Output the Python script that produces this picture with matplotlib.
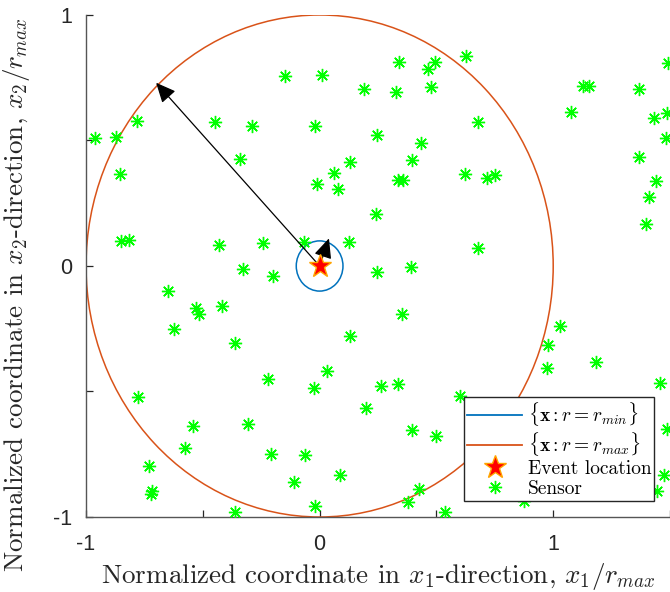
import numpy as np
import matplotlib.pyplot as plt
from matplotlib.patches import Circle
from matplotlib.lines import Line2D
from matplotlib.ticker import FuncFormatter, MultipleLocator

plt.rcParams['mathtext.fontset'] = 'cm'
plt.rcParams['axes.unicode_minus'] = False

# radii of the two circles (normalized by r_max)
r_min = 0.1
r_max = 1.0
event_x = [0.0]
event_y = [0.0]
# arrow tips (arrows start at the event)
arrow_tip_x = [-0.70, 0.04]
arrow_tip_y = [0.73, 0.11]

sensor_x = [-0.962, -0.870, -0.781, -0.855, -0.852, -0.814, -0.449, -0.291, -0.342, -0.430,
            -0.241, -0.328, -0.147, 0.009, 0.188, 0.329, 0.338, 0.462, 0.492, 0.476,
            0.627, -0.018, 0.246, 0.434, 0.396, 0.130, 0.060, -0.010, 0.079, 0.334,
            0.358, 0.624, 0.241, -0.068, 0.126, 0.246, 0.392, 0.680, 0.716, 0.749,
            0.680, 1.077, 1.129, 1.154, 1.369, 1.493, 1.433, 1.488, 1.483, 1.369,
            1.439, 1.410, 1.397, -0.199, -0.647, -0.529, -0.518, -0.416, -0.623, -0.364,
            -0.221, -0.777, -0.541, -0.305, -0.577, -0.208, -0.730, -0.716, -0.721, -0.364,
            0.351, 0.130, 0.032, -0.024, 0.264, 0.334, 0.198, 0.602, 0.396, 0.499,
            -0.064, 0.089, -0.111, -0.018, 0.426, 0.379, 0.536, 1.030, 0.976, 0.975,
            1.183, 1.457, 1.489, 1.475, 1.443, 0.873]
sensor_y = [0.508, 0.512, 0.576, 0.365, 0.100, 0.104, 0.574, 0.557, 0.426, 0.082,
            0.090, -0.011, 0.755, 0.759, 0.707, 0.693, 0.814, 0.786, 0.812, 0.713,
            0.837, 0.557, 0.522, 0.488, 0.422, 0.414, 0.371, 0.327, 0.307, 0.341,
            0.341, 0.367, 0.206, 0.096, 0.094, -0.024, -0.004, 0.573, 0.352, 0.361,
            0.073, 0.615, 0.716, 0.716, 0.707, 0.809, 0.590, 0.608, 0.509, 0.436,
            0.339, 0.275, 0.166, -0.040, -0.098, -0.167, -0.192, -0.159, -0.253, -0.307,
            -0.451, -0.522, -0.637, -0.629, -0.724, -0.749, -0.797, -0.896, -0.908, -0.982,
            -0.190, -0.280, -0.418, -0.487, -0.478, -0.471, -0.564, -0.519, -0.653, -0.677,
            -0.754, -0.831, -0.862, -0.956, -0.887, -0.939, -0.982, -0.241, -0.314, -0.405,
            -0.384, -0.465, -0.649, -0.831, -0.898, -0.937]

blue = '#0072BD'
orange = '#D95319'
green = '#00FF00'
axcol = '#262626'
asterisk = (8, 2, 0)

fig = plt.figure(figsize=(6.7, 5.92), dpi=100)
ax = fig.add_axes([0.1284, 0.1267, 0.8716, 0.848])

ax.add_patch(Circle((event_x[0], event_y[0]), r_min, fill=False, ec=blue, lw=1.1, zorder=2))
ax.add_patch(Circle((event_x[0], event_y[0]), r_max, fill=False, ec=orange, lw=1.1, zorder=2))

ax.plot(sensor_x, sensor_y, ls='none', marker=asterisk, ms=9.5, mew=1.0, color=green, zorder=3)

for tx, ty in zip(arrow_tip_x, arrow_tip_y):
    ax.annotate('', xy=(tx, ty), xytext=(event_x[0], event_y[0]),
                arrowprops=dict(arrowstyle='-|>,head_length=0.55,head_width=0.25',
                                color='k', lw=0.9, mutation_scale=22,
                                shrinkA=0, shrinkB=0),
                zorder=4)

ax.plot(event_x, event_y, ls='none', marker='*', ms=17, mfc='red', mec='#FFA500',
        mew=1.0, zorder=5)

ax.set_xlim(-1, 1.5)
ax.set_ylim(-1, 1)
ax.xaxis.set_major_locator(MultipleLocator(0.5))
ax.yaxis.set_major_locator(MultipleLocator(0.5))
int_fmt = FuncFormatter(lambda v, p: '%d' % round(v) if abs(v - round(v)) < 1e-9 else '')
ax.xaxis.set_major_formatter(int_fmt)
ax.yaxis.set_major_formatter(int_fmt)

for s in ['top', 'right']:
    ax.spines[s].set_visible(False)
for s in ['left', 'bottom']:
    ax.spines[s].set_color('#555555')
    ax.spines[s].set_linewidth(1.0)
ax.tick_params(direction='in', length=5, width=0.9, color=axcol, labelcolor=axcol,
               labelsize=15.5)
ax.tick_params(axis='x', pad=12)
ax.tick_params(axis='y', pad=10)
for lab in ax.get_xticklabels() + ax.get_yticklabels():
    lab.set_fontfamily('Liberation Sans')

ax.set_xlabel(r'Normalized coordinate in $x_1$-direction, $x_1/r_{max}$',
              fontfamily='cmr10', fontsize=19.5, color=axcol)
ax.set_ylabel(r'Normalized coordinate in $x_2$-direction, $x_2/r_{max}$',
              fontfamily='cmr10', fontsize=19.5, color=axcol)
ax.xaxis.set_label_coords(0.5, -0.088)
ax.yaxis.set_label_coords(-0.092, 0.442)

handles = [Line2D([], [], color=blue, lw=1.3),
           Line2D([], [], color=orange, lw=1.3),
           Line2D([], [], ls='none', marker='*', ms=17, mfc='red', mec='#FFA500', mew=1.0),
           Line2D([], [], ls='none', marker=asterisk, ms=9.5, mew=1.0, color=green)]
labels = [r'$\{\mathbf{x} : r = r_{min}\}$', r'$\{\mathbf{x} : r = r_{max}\}$',
          'Event location', 'Sensor']
leg = ax.legend(handles, labels, loc='lower right', bbox_to_anchor=(0.973, 0.032),
                prop={'family': 'cmr10', 'size': 14}, fancybox=False, framealpha=1,
                edgecolor=axcol, handlelength=2.8, handletextpad=0.3,
                borderpad=0.15, labelspacing=0.1, borderaxespad=0)
leg.get_frame().set_linewidth(1.0)
leg.set_zorder(10)

fig.savefig('out.png', dpi=100)
